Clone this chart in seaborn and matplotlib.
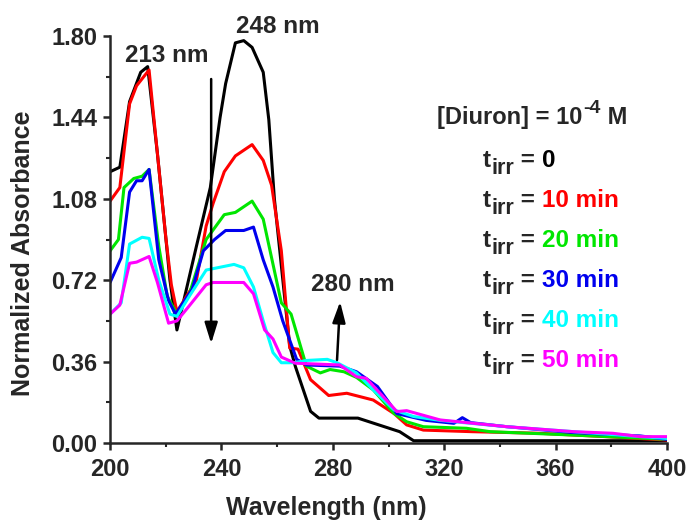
import pandas as pd
import matplotlib
matplotlib.use("Agg")
import matplotlib.pyplot as plt
import seaborn as sns

sns.set_style("ticks")
plt.rcParams['font.family'] = ['Liberation Sans', 'DejaVu Sans']
plt.rcParams['font.weight'] = 'bold'

# ===============================
# Data
# ===============================
times = ['0', '10 min', '20 min', '30 min', '40 min', '50 min']
colors = ['#000000', '#ff0000', '#00e600', '#0000ee', '#00ffff', '#ff00ff']

wl_0 = [200, 203.5, 207, 211, 213.5, 217, 220, 221.5, 224, 231, 236, 239.5, 241.5, 245, 248, 251,
        255, 257, 259, 264.5, 266.5, 272, 275, 289, 304, 309, 400]
abs_0 = [1.20, 1.22, 1.51, 1.64, 1.665, 1.28, 0.91, 0.72, 0.50, 0.87, 1.13, 1.44, 1.59, 1.77, 1.78, 1.75,
         1.64, 1.43, 1.08, 0.43, 0.34, 0.14, 0.11, 0.11, 0.05, 0.01, 0.01]

wl_10 = [200, 203.5, 207, 209.5, 214, 217, 220, 222, 224, 231, 234.5, 237, 241, 245, 251, 255, 258,
         261.5, 264.5, 267.5, 272, 278.5, 285, 294.5, 302, 306.5, 312.5, 330, 354, 378, 400]
abs_10 = [1.07, 1.13, 1.50, 1.58, 1.65, 1.28, 0.91, 0.70, 0.58, 0.72, 0.96, 1.06, 1.20, 1.27, 1.32, 1.25, 1.14,
          0.85, 0.42, 0.415, 0.28, 0.21, 0.22, 0.19, 0.13, 0.08, 0.057, 0.05, 0.043, 0.028, 0.013]

wl_20 = [200, 203, 205, 208.5, 211.5, 214, 217.5, 220.5, 224, 228.5, 234.5, 241, 245, 251, 255, 261.5,
         265, 270.5, 275.5, 279, 284, 288.5, 294.5, 302, 306.5, 312.5, 328, 336.5, 366.5, 400]
abs_20 = [0.85, 0.90, 1.13, 1.17, 1.18, 1.21, 0.87, 0.65, 0.57, 0.66, 0.90, 1.01, 1.02, 1.07, 0.99, 0.62,
          0.57, 0.34, 0.31, 0.325, 0.315, 0.29, 0.235, 0.13, 0.094, 0.072, 0.065, 0.05, 0.035, 0.016]

wl_30 = [200, 204, 207, 209.5, 211.5, 214, 217.5, 221, 223.5, 229.5, 233.5, 237.5, 241.5, 248, 251.5,
         255, 258.5, 262, 267, 270.5, 282.5, 288.5, 296, 303, 313.5, 323.5, 326.5, 329.5, 342.5, 366.5,
         390.5, 400]
abs_30 = [0.71, 0.82, 1.11, 1.16, 1.16, 1.21, 0.81, 0.63, 0.57, 0.68, 0.85, 0.90, 0.94, 0.94, 0.955,
          0.81, 0.69, 0.54, 0.37, 0.345, 0.34, 0.315, 0.25, 0.13, 0.10, 0.087, 0.112, 0.09, 0.072, 0.046,
          0.031, 0.016]

wl_40 = [200, 204, 207, 211.5, 214, 217.5, 221.5, 224, 228.5, 234.5, 244.5, 248, 251.5, 255, 258.5,
         261.5, 266, 270.5, 278, 281.5, 288.5, 294.5, 302, 309, 318.5, 342.5, 366.5, 390.5, 400]
abs_40 = [0.57, 0.62, 0.88, 0.91, 0.905, 0.72, 0.57, 0.56, 0.65, 0.765, 0.79, 0.775, 0.69, 0.54, 0.40,
          0.355, 0.355, 0.365, 0.37, 0.355, 0.31, 0.235, 0.146, 0.117, 0.10, 0.072, 0.05, 0.028, 0.02]

wl_50 = [200, 203.5, 207, 209.5, 214, 217, 221, 224, 228, 234.5, 237, 248, 251.5, 255.5, 258.5, 261.5,
         266.5, 282.5, 288.5, 292, 303, 306.5, 318.5, 342.5, 366.5, 380.5, 390.5, 400]
abs_50 = [0.57, 0.61, 0.795, 0.80, 0.825, 0.71, 0.53, 0.54, 0.60, 0.70, 0.71, 0.71, 0.66, 0.50, 0.46,
          0.38, 0.353, 0.345, 0.293, 0.286, 0.139, 0.143, 0.102, 0.072, 0.05, 0.043, 0.028, 0.028]

wavelengths = [wl_0, wl_10, wl_20, wl_30, wl_40, wl_50]
absorbances = [abs_0, abs_10, abs_20, abs_30, abs_40, abs_50]

frames = []
for t, w, a in zip(times, wavelengths, absorbances):
    frames.append(pd.DataFrame({'wavelength': w, 'absorbance': a, 'time': t}))
df = pd.concat(frames, ignore_index=True)

# ===============================
# Plot
# ===============================
fig = plt.figure(figsize=(6.88, 5.23), dpi=100)
ax = fig.add_axes([0.16, 0.153, 0.8095, 0.778])

sns.lineplot(data=df, x='wavelength', y='absorbance', hue='time', hue_order=times,
             palette=dict(zip(times, colors)), estimator=None, sort=False,
             linewidth=2.2, legend=False, ax=ax)

ax.set_xlim(200, 400)
ax.set_ylim(0, 1.80)
ax.set_xticks([200, 240, 280, 320, 360, 400])
ax.set_xticks([220, 260, 300, 340, 380], minor=True)
ax.set_yticks([0.00, 0.36, 0.72, 1.08, 1.44, 1.80])
ax.set_yticks([0.18, 0.54, 0.90, 1.26, 1.62], minor=True)
ax.set_yticklabels(['0.00', '0.36', '0.72', '1.08', '1.44', '1.80'])
ax.set_xlabel('')
ax.set_ylabel('')
sns.despine(ax=ax)
for s in ['left', 'bottom']:
    ax.spines[s].set_linewidth(1.8)
ax.tick_params(which='major', direction='out', length=5, width=1.8, labelsize=17, pad=4)
ax.tick_params(which='minor', direction='out', length=3, width=1.5)
ax.tick_params(axis='x', which='major', pad=6)

fig.text(326 / 688, 1 - 508 / 523, 'Wavelength (nm)', ha='center', va='center', fontsize=18)
fig.text(23 / 688, 1 - 253 / 523, 'Normalized Absorbance', ha='center', va='center',
         rotation=90, fontsize=18)

# peak labels and arrows
ax.text(220.3, 1.687, '213 nm', ha='center', va='baseline', fontsize=17.5, clip_on=False)
ax.text(260.1, 1.813, '248 nm', ha='center', va='baseline', fontsize=17.5, clip_on=False)
ax.text(287.1, 0.674, '280 nm', ha='center', va='baseline', fontsize=17.5)
ax.annotate('', xy=(236.3, 0.44), xytext=(236.3, 1.61),
            arrowprops=dict(arrowstyle='-|>,head_length=0.9,head_width=0.28', color='black',
                            lw=1.8, mutation_scale=14, shrinkA=0, shrinkB=0))
ax.annotate('', xy=(282.6, 0.625), xytext=(281.5, 0.367),
            arrowprops=dict(arrowstyle='-|>,head_length=0.9,head_width=0.28', color='black',
                            lw=1.8, mutation_scale=14, shrinkA=0, shrinkB=0))

# concentration label: [Diuron] = 10^-4 M
d0 = ax.text(317.5, 1.41, '[Diuron] = 10', ha='left', va='baseline', fontsize=17)
d1 = ax.annotate('-4', xy=(1, 1.41), xycoords=(d0, 'data'), xytext=(0.5, 8),
                 textcoords='offset points', ha='left', va='baseline', fontsize=14)
ax.annotate(' M', xy=(1, 1.41), xycoords=(d1, 'data'), xytext=(0, 0),
            textcoords='offset points', ha='left', va='baseline', fontsize=17)

# irradiation time labels
line_y = [1.221, 1.044, 0.867, 0.690, 0.513, 0.336]
for t, c, y in zip(times, colors, line_y):
    t0 = ax.text(333.9, y, 't', ha='left', va='baseline', fontsize=17.5)
    sub = ax.annotate('irr', xy=(1, y), xycoords=(t0, 'data'), xytext=(0.5, -5),
                      textcoords='offset points', ha='left', va='baseline', fontsize=15.5)
    eq = ax.annotate(' = ', xy=(1, y), xycoords=(sub, 'data'), xytext=(0, 0),
                     textcoords='offset points', ha='left', va='baseline', fontsize=17.5)
    ax.annotate(t, xy=(1, y), xycoords=(eq, 'data'), xytext=(0, 0),
                textcoords='offset points', ha='left', va='baseline', fontsize=17.5, color=c)

fig.savefig('out.png', dpi=100)
